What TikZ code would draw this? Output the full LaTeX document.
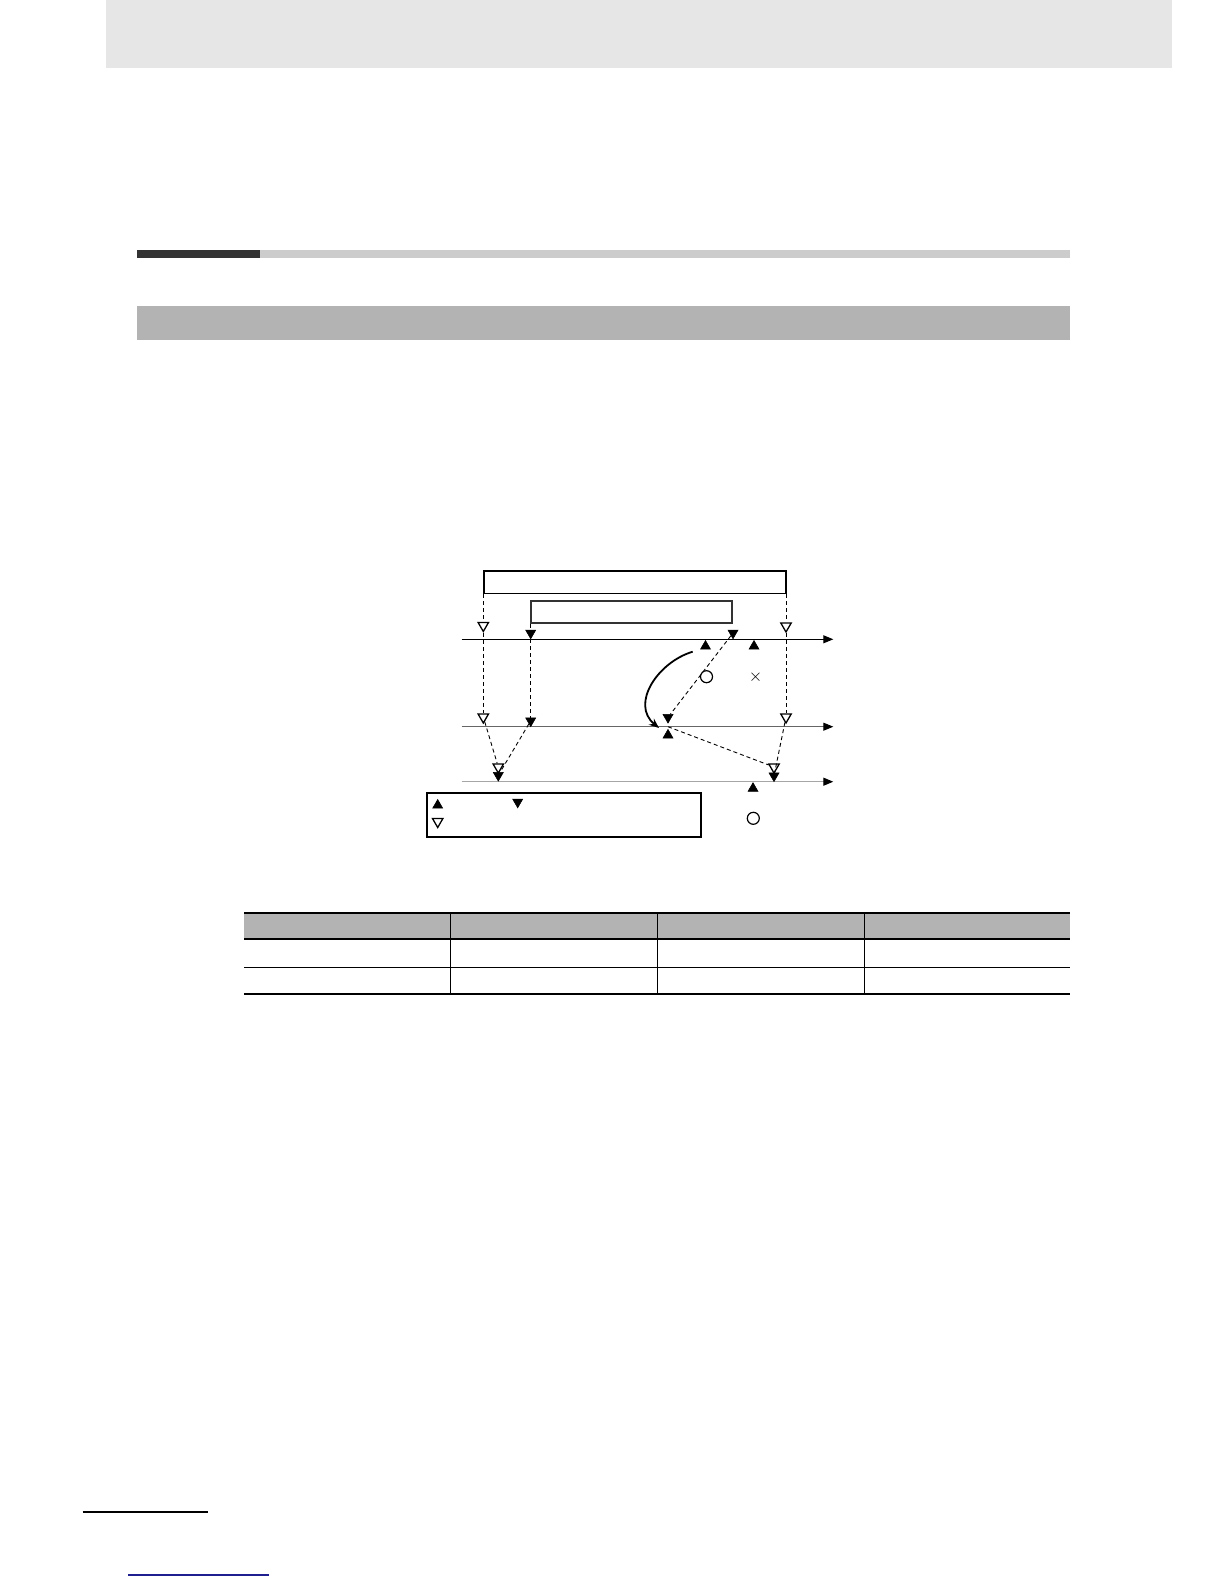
\documentclass[tikz,border=0pt]{standalone}
\usetikzlibrary{arrows.meta}
\usetikzlibrary{shapes.geometric}

\definecolor{hdrgray}{HTML}{E6E6E6}
\definecolor{bargray}{HTML}{B3B3B3}
\definecolor{darkbar}{HTML}{333333}
\definecolor{lightbar}{HTML}{CCCCCC}
\definecolor{linkblue}{HTML}{1F1F8F}

\begin{document}
\begin{tikzpicture}[x=1pt,y=-1pt,
		tri/.style={regular polygon, regular polygon sides=3, minimum size=11.5pt, inner sep=0pt, draw, line width=0.6pt},
		tridown/.style={tri, shape border rotate=180, fill=black},
		triup/.style={tri, fill=black},
		trihollow/.style={tri, shape border rotate=180, fill=white, line width=1.3pt, minimum size=12pt},
		guide/.style={dash pattern=on 4pt off 3pt, line width=0.9pt},
		axis/.style={line width=1pt, -{Triangle[length=10pt,width=8pt,color=black]}},
		box/.style={draw, line width=1.8pt, inner sep=0pt},
		ring/.style={circle, draw, line width=1.2pt, minimum size=12pt, inner sep=0pt, fill=white},
		thickrule/.style={line width=2.2pt},
		thinrule/.style={line width=1pt}]
		\fill[white] (0,0) rectangle (1224,1584);
		\useasboundingbox (0,0) rectangle (1224,1584);

		\fill[hdrgray] (106,0) rectangle (1171.7,68.3);
		\fill[darkbar] (137.4,250) rectangle (260,257.7);
		\fill[lightbar] (260,250) rectangle (1070,257.7);
		\fill[bargray] (137.4,306) rectangle (1070,340);

		\node[box, minimum width=301.6pt, minimum height=22.5pt] (bigbox) at (635,582.2) {};
		\node[box, draw=black!80, line width=2pt, minimum width=200.7pt, minimum height=22.3pt] (innerbox) at (631.4,612.2) {};

		\coordinate (a1w) at (461.7,639.3);
		\coordinate (a1e) at (833.3,639.3);
		\coordinate (a2w) at (461.7,726.7);
		\coordinate (a2e) at (833.3,726.7);
		\coordinate (a3w) at (461.7,781.7);
		\coordinate (a3e) at (833.3,781.7);
		\coordinate (meet) at (668,726.7);
		\draw[axis] (a1w) -- (a1e);
		\draw[axis, draw=black!60] (a2w) -- (a2e);
		\draw[axis, draw=black!35, line width=1.3pt] (a3w) -- (a3e);

		\node[trihollow] (h1a) at (483.3,625.5) {};
		\node[tridown] (f1b) at (530.7,633) {};
		\node[tridown] (f1c) at (733,633) {};
		\node[trihollow] (h1d) at (786,626) {};
		\node[triup] (u1a) at (705.5,646.3) {};
		\node[triup] (u1b) at (754,646.3) {};

		\node[trihollow] (h2a) at (483.3,717) {};
		\node[tridown] (f2b) at (530.7,720.8) {};
		\node[tridown] (f2c) at (668,717.3) {};
		\node[triup] (u2c) at (668,735.2) {};
		\node[trihollow] (h2d) at (786,717) {};

		\node[trihollow] (h3a) at (498.3,767) {};
		\node[tridown] (f3a) at (498.3,775.3) {};
		\node[trihollow] (h3b) at (774,767) {};
		\node[tridown] (f3b) at (774,775.8) {};
		\node[triup] (u3) at (753,788.5) {};

		\draw[guide] (h1a |- bigbox.south) -- (h1a);
		\draw[guide] (h1a) -- (h2a);
		\draw[guide] (f1b |- innerbox.south) -- (f1b);
		\draw[guide] (f1b) -- (f2b);
		\draw[guide] (h1d |- bigbox.south) -- (h1d);
		\draw[guide] (h1d) -- (h2d);
		\draw[guide] (f1c) -- (f2c);
		\draw[guide] (h2a) -- (h3a);
		\draw[guide] (f2b) -- (f3a);
		\draw[guide] (meet) -- (h3b);
		\draw[guide] (h2d) -- (f3b);

		\coordinate (bendfrom) at (692.7,651.7);
		\coordinate (bendto) at (659,728);
		\draw[line width=1.8pt, -{Stealth[length=10pt,width=8pt]}] (bendfrom) .. controls (658,662) and (630,704) .. (bendto);

		\node[ring] (ok1) at (706.5,676.7) {};
		\node[font=\fontsize{16}{16}\selectfont, inner sep=0pt] (ng1) at (755.5,677.5) {$\times$};

		\node[box, minimum width=274.3pt, minimum height=44.6pt] (legend) at (564.2,815) {};
		\node[triup] (lu) at (437.7,805.3) {};
		\node[tridown] (ld) at (517.7,802) {};
		\node[trihollow] (lh) at (437.7,821.5) {};
		\node[ring] (ok2) at (753.3,818.3) {};

		\fill[bargray] (244,913.3) rectangle (1070,939.3);
		\foreach \x in {450,657.7,864}
			\draw[thinrule] (\x,913.3) -- (\x,993.7);
		\draw[thickrule] (244,913.3) -- (1070,913.3);
		\draw[thickrule] (244,939.3) -- (1070,939.3);
		\draw[thinrule] (244,967.3) -- (1070,967.3);
		\draw[thickrule] (244,993.7) -- (1070,993.7);

		\draw[line width=2pt] (82.7,1511.7) -- (207.7,1511.7);
		\draw[linkblue, line width=1.2pt] (128,1575) -- (269,1575);
	\end{tikzpicture}
\end{document}
